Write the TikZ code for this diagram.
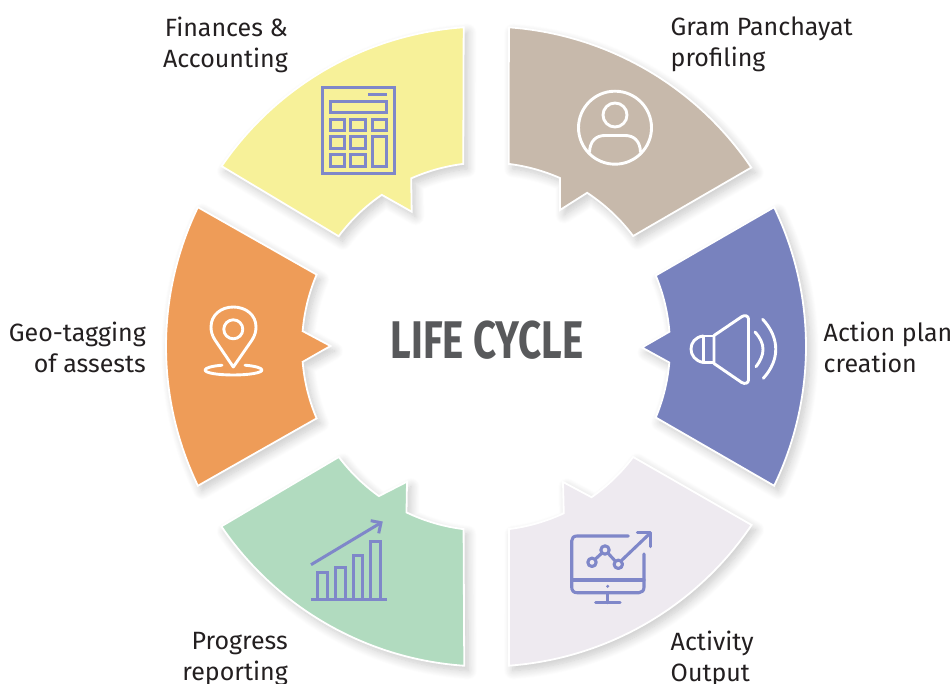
\documentclass[tikz,border=0pt]{standalone}
\usepackage{fontspec}
\setmainfont{Fira Sans}
\usetikzlibrary{shadows.blur}
\definecolor{gramcol}{HTML}{C7B9AB}
\definecolor{actioncol}{HTML}{7882BE}
\definecolor{outputcol}{HTML}{EEEAF0}
\definecolor{progresscol}{HTML}{B1DBBF}
\definecolor{geocol}{HTML}{EE9C58}
\definecolor{financecol}{HTML}{F7F199}
\definecolor{titlecol}{HTML}{58595B}
\definecolor{labelcol}{HTML}{231F20}
\definecolor{iconcol}{HTML}{7F87C9}
\tikzset{
    sector/.style={draw=white,line width=1.8pt,line join=miter,
        blur shadow={shadow xshift=4pt,shadow yshift=-5pt,shadow blur radius=9pt,shadow opacity=22,shadow blur steps=12}},
    label/.style={inner sep=0pt,text=labelcol,font=\fontsize{25}{31}\selectfont},
    whiteicon/.style={draw=white,line width=2.9pt,line cap=round,line join=round},
    blueicon/.style={draw=iconcol,line width=3.1pt,line cap=round,line join=round},
    barline/.style={draw=iconcol,line width=3pt,line cap=butt,line join=miter},
}
\begin{document}
\begin{tikzpicture}[x=1pt,y=-1pt]
    \def\ro{320};
    \def\ri{184};
    \useasboundingbox (0,0) rectangle (952,684);
    \begin{scope}[shift={(486,346.5)},y=1pt]
    \foreach \col/\oa/\ob/\ia/\ib/\tx/\ty/\ic/\id in {
        gramcol/85.9/34/36.9/56.65/74/136.5/66.3/82.9,
        actioncol/25.8/-25.8/-22.7/-5/156/-1/4.6/22.7,
        outputcol/-33.9/-85.9/-82.8/-65/77/-135.5/-55/-36.9,
        progresscol/-93.9/-145.8/-143.1/-125.6/-79/-135.2/-115.6/-97,
        geocol/-154.2/-205.8/-203/-184.8/-155.5/0.5/-175.2/-157,
        financecol/-214.3/-266/-262.9/-246/-74.3/134.8/-235.5/-216.8}{
        \filldraw[sector,fill=\col] (\oa:\ro) arc[start angle=\oa,end angle=\ob,radius=\ro] -- (\ia:\ri) arc[start angle=\ia,end angle=\ib,radius=\ri] -- (\tx,\ty) -- (\ic:\ri) arc[start angle=\ic,end angle=\id,radius=\ri] -- cycle;}
    \end{scope}

    \node[text=titlecol,inner sep=0pt] (title) at (487,340) {\fontsize{53}{53}\selectfont\bfseries\scalebox{0.76}[1]{LIFE CYCLE}};
    \node[label,anchor=west,align=left] (gram) at (670.5,44.5) {Gram Panchayat\\profiling};
    \node[label,anchor=west,align=left] (action) at (823.5,347) {Action plan\\creation};
    \node[label,anchor=west,align=left] (output) at (670.5,659) {Activity\\Output};
    \node[label,anchor=east,align=right] (progress) at (288,659) {Progress\\reporting};
    \node[label,anchor=east,align=right] (geo) at (146,347) {Geo-tagging\\of assests};
    \node[label,anchor=east,align=right] (finance) at (288,44.5) {Finances \&\\Accounting};

    \draw[whiteicon] (615,127.7) circle (36.5);
    \draw[whiteicon] (615,115) circle (12);
    \draw[whiteicon] (589.5,152) .. controls (590,141) and (596,135.5) .. (605,135.5) -- (625,135.5) .. controls (634,135.5) and (640,141) .. (640.5,152);

    \draw[whiteicon] (714,335.5) -- (741.7,316.7) .. controls (745,314.5) and (748.5,316) .. (748.5,319) -- (748.5,380) .. controls (748.5,383) and (745,384.5) .. (741.7,382.5) -- (714,363.5) -- cycle;
    \draw[whiteicon] (703.3,336) rectangle (714,362.5);
    \draw[whiteicon] (703.3,336) .. controls (695,337) and (691,343) .. (691,349) .. controls (691,355) and (695,361) .. (703.3,362.5);
    \draw[whiteicon] (755,332) .. controls (766,344) and (765,355) .. (756,366.7);
    \draw[whiteicon] (762.7,319.3) .. controls (780,338) and (780,360) .. (763.3,378.3);

    \draw[blueicon] (628.3,536) -- (577,536) .. controls (573.5,536) and (571.7,538) .. (571.7,541) -- (571.7,587) .. controls (571.7,590.5) and (573.5,592.7) .. (577,592.7) -- (639,592.7) .. controls (642,592.7) and (644,590.5) .. (644,587) -- (644,554);
    \draw[blueicon] (571.7,580) -- (644,580);
    \fill[iconcol] (607.7,586.3) circle (1.7);
    \draw[blueicon] (607.7,592.7) -- (607.7,602.7) (595.7,602.7) -- (620,602.7);
    \draw[blueicon] (592,562.3) circle (4.2) (605,550) circle (4.2) (618.3,564.3) circle (4.2);
    \draw[blueicon] (595,559.4) -- (602,553) (608,553.2) -- (615.3,561.1) (622,560) -- (650,533.3);
    \draw[blueicon] (637.3,532.7) -- (650.7,532.7) -- (650.7,546.7);

    \draw[barline] (311,599) -- (386.7,599);
    \foreach \bl/\br/\bt in {317.7/327.3/572.7,335.3/345/567.7,353/362.7/555.7,370.7/380.3/541.7}{
        \draw[barline] (\bl,599) -- (\bl,\bt) -- (\br,\bt) -- (\br,599);}
    \draw[barline] (311,564.7) -- (380,523.3);
    \draw[barline] (370.7,520.7) -- (381,522.7) -- (378.7,533.3);

    \draw[whiteicon] (233.3,367) -- (215,340) .. controls (212,335.5) and (211,331) .. (211,327) .. controls (211,315) and (221,307) .. (233.3,307) .. controls (246,307) and (256,315) .. (256,327) .. controls (256,331) and (255,335.5) .. (252,340) -- cycle;
    \draw[whiteicon] (233.3,329.3) circle (9.5);
    \draw[whiteicon] (245,365.2) .. controls (255,366) and (262,368) .. (262,370) .. controls (262,373) and (248,375) .. (233.3,375) .. controls (218,375) and (205,373) .. (205,370) .. controls (205,368) and (212,366) .. (222,365.2);

    \draw[barline] (322.3,87.3) rectangle (394.3,173.3);
    \draw[barline] (368.3,95) -- (387.3,95);
    \draw[barline] (330,102) rectangle (386.7,112.7);
    \foreach \kx/\kw in {330/344.7,350.7/365.7}{
        \foreach \ky/\kh in {119.3/130.7,137/148.3,155/166.3}{
            \draw[barline] (\kx,\ky) rectangle (\kw,\kh);}}
    \draw[barline] (372.3,119.3) rectangle (386.7,130.7);
    \draw[barline] (372.3,137) rectangle (386.7,166.3);
\end{tikzpicture}
\end{document}
